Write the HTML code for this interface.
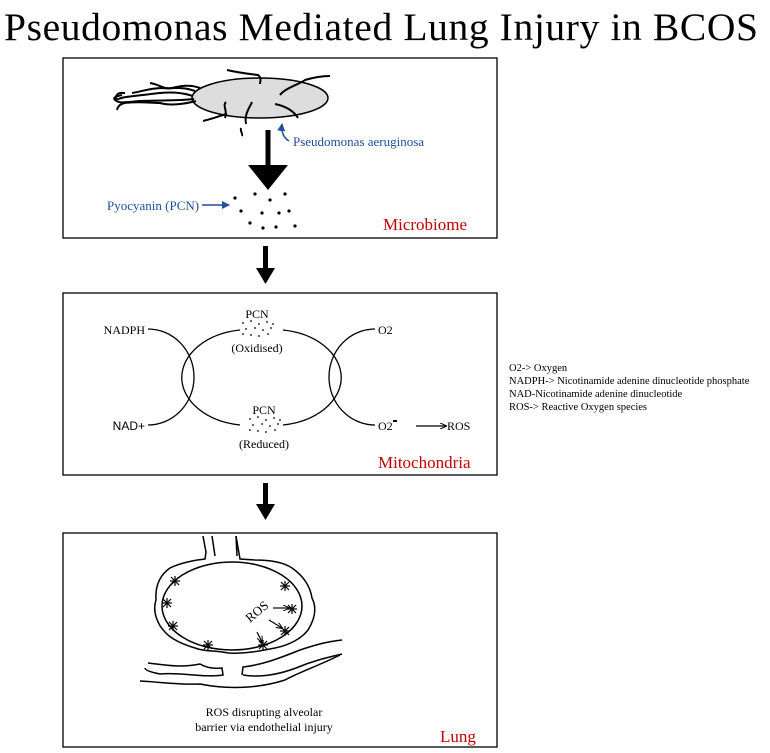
<!DOCTYPE html>
<html><head><meta charset="utf-8"><style>
html,body{margin:0;padding:0;background:#fff}
svg{display:block}
text{font-family:"Liberation Serif",serif}
</style></head><body>
<svg width="770" height="753" viewBox="0 0 770 753" xmlns="http://www.w3.org/2000/svg">
<defs>
<marker id="bl" markerWidth="8" markerHeight="8" refX="7" refY="4" orient="auto" markerUnits="userSpaceOnUse"><path d="M0,0 L8,4 L0,8 Z" fill="#1f4e9a"/></marker>
<marker id="k" markerWidth="7" markerHeight="6" refX="6" refY="3" orient="auto" markerUnits="userSpaceOnUse"><path d="M0,0 L7,3 L0,6" fill="none" stroke="#000" stroke-width="1"/></marker>
</defs>
<text x="4" y="40" font-size="39.5" textLength="754">Pseudomonas Mediated Lung Injury in BCOS</text>

<!-- Box 1 -->
<rect x="63" y="58" width="434" height="180" fill="none" stroke="#000" stroke-width="1.3"/>
<ellipse cx="260" cy="98" rx="68" ry="20" fill="#ddd" stroke="#000" stroke-width="1.5"/>
<g fill="none" stroke="#000" stroke-width="2">
<path d="M193,96 C180,92 170,92 160,93 C150,94 135,96 126,97 C118,98 115,102 116,97 C117,92 122,93 125,93"/>
<path d="M194,99 C178,101 160,100 140,101 C125,102 120,104 115,100 C112,97 118,96 122,95"/>
<path d="M195,91 C182,86 172,89 162,88 C150,88 140,92 132,93"/>
<path d="M196,101 C185,104 170,106 160,103 C150,103 140,101 125,103 C120,104 118,106 117,110"/>
<path d="M200,88 C190,84 180,86 172,88 C165,90 158,84 150,83"/>
<path d="M227,70 C240,73 250,74 258,75 C262,78 260,82 260,84"/>
<path d="M280,95 C285,88 300,84 305,80 C315,77 325,76 330,76"/>
<path d="M225,118 C228,110 222,106 226,102"/>
<path d="M246,124 C244,114 250,107 252,102"/>
<path d="M241,128 C240,131 243,134 242,136"/>
<path d="M203,121 C215,118 222,115 227,114"/>
<path d="M275,104 C285,106 293,110 298,118"/>
</g>
<path d="M289,141 C284,138 281,133 282,124" fill="none" stroke="#1f4e9a" stroke-width="1.5" marker-end="url(#bl)"/>
<text x="293" y="146" font-size="13" fill="#1f4e9a">Pseudomonas aeruginosa</text>
<rect x="265.5" y="130" width="5" height="36" fill="#000"/>
<path d="M248,165 L288,165 L268,190 Z" fill="#000"/>
<text x="107" y="210" font-size="13" fill="#1f4e9a">Pyocyanin (PCN)</text>
<line x1="202" y1="205" x2="229" y2="205" stroke="#1f4e9a" stroke-width="1.6" marker-end="url(#bl)"/>
<g fill="#000">
<circle cx="235" cy="198" r="1.6"/><circle cx="255" cy="194" r="1.6"/><circle cx="270" cy="200" r="1.6"/><circle cx="285" cy="194" r="1.6"/>
<circle cx="241" cy="211" r="1.6"/><circle cx="262" cy="213" r="1.6"/><circle cx="279" cy="213" r="1.6"/><circle cx="289" cy="211" r="1.6"/>
<circle cx="250" cy="223" r="1.6"/><circle cx="263" cy="228" r="1.6"/><circle cx="276" cy="227" r="1.6"/><circle cx="295" cy="226" r="1.6"/>
</g>
<text x="383" y="230" font-size="17" fill="#c00000">Microbiome</text>

<!-- arrow 1 -->
<rect x="263" y="246" width="5" height="24" fill="#000"/>
<path d="M256,268 L275,268 L265.5,284 Z" fill="#000"/>

<!-- Box 2 -->
<rect x="63" y="293" width="434" height="182" fill="none" stroke="#000" stroke-width="1.3"/>
<g fill="none" stroke="#000" stroke-width="1.3">
<path d="M148,329 A46,48 0 0 1 148,425"/>
<path d="M375,329 A46,48 0 0 0 375,425"/>
<path d="M240,330 A68,48 0 0 0 240,425"/>
<path d="M283,330 A68,48 0 0 1 283,425"/>
</g>
<text x="145" y="334" font-size="12" text-anchor="end">NADPH</text>
<text x="145" y="430" font-size="12" text-anchor="end" style="font-family:'Liberation Sans',sans-serif">NAD+</text>
<text x="378" y="334" font-size="12">O2</text>
<text x="378" y="430" font-size="12">O2</text>
<rect x="393" y="420" width="4" height="2" fill="#000"/>
<line x1="416" y1="426" x2="446" y2="426" stroke="#000" stroke-width="1.2" marker-end="url(#k)"/>
<text x="447" y="430" font-size="12">ROS</text>
<text x="257" y="318" font-size="12" text-anchor="middle">PCN</text>
<text x="257" y="352" font-size="12" text-anchor="middle">(Oxidised)</text>
<text x="264" y="414" font-size="12" text-anchor="middle">PCN</text>
<text x="264" y="448" font-size="12" text-anchor="middle">(Reduced)</text>
<g fill="#000">
<circle cx="243" cy="323" r="0.9"/><circle cx="251" cy="321" r="0.9"/><circle cx="259" cy="324" r="0.9"/><circle cx="267" cy="322" r="0.9"/><circle cx="273" cy="324" r="0.9"/>
<circle cx="246" cy="329" r="0.9"/><circle cx="255" cy="328" r="0.9"/><circle cx="263" cy="330" r="0.9"/><circle cx="271" cy="328" r="0.9"/>
<circle cx="243" cy="334" r="0.9"/><circle cx="251" cy="335" r="0.9"/><circle cx="259" cy="336" r="0.9"/><circle cx="268" cy="334" r="0.9"/>
<circle cx="250" cy="419" r="0.9"/><circle cx="258" cy="417" r="0.9"/><circle cx="266" cy="420" r="0.9"/><circle cx="274" cy="418" r="0.9"/><circle cx="280" cy="420" r="0.9"/>
<circle cx="253" cy="425" r="0.9"/><circle cx="262" cy="424" r="0.9"/><circle cx="270" cy="426" r="0.9"/><circle cx="278" cy="424" r="0.9"/>
<circle cx="250" cy="430" r="0.9"/><circle cx="258" cy="431" r="0.9"/><circle cx="266" cy="432" r="0.9"/><circle cx="275" cy="430" r="0.9"/>
</g>
<text x="378" y="468" font-size="17" fill="#c00000">Mitochondria</text>

<!-- legend -->
<g font-size="10.5">
<text x="509" y="371">O2-&gt; Oxygen</text>
<text x="509" y="384">NADPH-&gt; Nicotinamide adenine dinucleotide phosphate</text>
<text x="509" y="397">NAD-Nicotinamide adenine dinucleotide</text>
<text x="509" y="410">ROS-&gt; Reactive Oxygen species</text>
</g>

<!-- arrow 2 -->
<rect x="263" y="483" width="5" height="22" fill="#000"/>
<path d="M256,504 L275,504 L265.5,520 Z" fill="#000"/>

<!-- Box 3 -->
<rect x="63" y="533" width="434" height="214" fill="none" stroke="#000" stroke-width="1.3"/>
<g fill="none" stroke="#000" stroke-width="1.5">
<ellipse cx="232" cy="606" rx="70" y="0" ry="44"/>
<path d="M203,536 L206,552 L205,559 C195,560 180,563 170,568 C160,575 155,585 156,600 C152,612 158,625 165,632 C172,640 185,645 195,648 C205,652 215,650 228,653 C245,654 260,651 275,648 C290,645 302,638 308,630 C313,622 318,610 312,598 C310,585 302,575 292,568 C283,562 270,560 255,560 L240,559 L236,536"/>
<path d="M212,536 L215,556"/>
<path d="M236,536 L237,556"/>
<path d="M148,663 C165,665 180,668 200,664 C210,670 220,668 222,668 L223,675 C205,678 180,672 160,674 C150,672 145,670 145,668"/>
<path d="M242,675 L243,667 C262,665 280,658 300,650 C315,645 325,642 342,640"/>
<path d="M340,655 C320,665 300,672 285,680 C260,688 230,690 200,684 C180,685 160,682 140,681"/>
<path d="M243,675 C262,678 280,674 296,668 C315,660 330,657 342,654"/>
</g>
<g stroke="#000" stroke-width="1.2">
<g transform="translate(175,581)"><line x1="-5" y1="0" x2="5" y2="0"/><line x1="0" y1="-5" x2="0" y2="5"/><line x1="-4" y1="-4" x2="4" y2="4"/><line x1="-4" y1="4" x2="4" y2="-4"/></g>
<g transform="translate(167,603)"><line x1="-5" y1="0" x2="5" y2="0"/><line x1="0" y1="-5" x2="0" y2="5"/><line x1="-4" y1="-4" x2="4" y2="4"/><line x1="-4" y1="4" x2="4" y2="-4"/></g>
<g transform="translate(173,626)"><line x1="-5" y1="0" x2="5" y2="0"/><line x1="0" y1="-5" x2="0" y2="5"/><line x1="-4" y1="-4" x2="4" y2="4"/><line x1="-4" y1="4" x2="4" y2="-4"/></g>
<g transform="translate(208,645)"><line x1="-5" y1="0" x2="5" y2="0"/><line x1="0" y1="-5" x2="0" y2="5"/><line x1="-4" y1="-4" x2="4" y2="4"/><line x1="-4" y1="4" x2="4" y2="-4"/></g>
<g transform="translate(263,645)"><line x1="-5" y1="0" x2="5" y2="0"/><line x1="0" y1="-5" x2="0" y2="5"/><line x1="-4" y1="-4" x2="4" y2="4"/><line x1="-4" y1="4" x2="4" y2="-4"/></g>
<g transform="translate(285,631)"><line x1="-5" y1="0" x2="5" y2="0"/><line x1="0" y1="-5" x2="0" y2="5"/><line x1="-4" y1="-4" x2="4" y2="4"/><line x1="-4" y1="4" x2="4" y2="-4"/></g>
<g transform="translate(292,609)"><line x1="-5" y1="0" x2="5" y2="0"/><line x1="0" y1="-5" x2="0" y2="5"/><line x1="-4" y1="-4" x2="4" y2="4"/><line x1="-4" y1="4" x2="4" y2="-4"/></g>
<g transform="translate(285,586)"><line x1="-5" y1="0" x2="5" y2="0"/><line x1="0" y1="-5" x2="0" y2="5"/><line x1="-4" y1="-4" x2="4" y2="4"/><line x1="-4" y1="4" x2="4" y2="-4"/></g>
</g>
<g stroke="#000" stroke-width="1.2" fill="none">
<line x1="273" y1="608" x2="289" y2="608" marker-end="url(#k)"/>
<line x1="269" y1="620" x2="282" y2="628" marker-end="url(#k)"/>
<line x1="257" y1="632" x2="262" y2="642" marker-end="url(#k)"/>
</g>
<text x="0" y="0" font-size="13" transform="translate(250,623) rotate(-40)">ROS</text>
<text x="264" y="716" font-size="12" text-anchor="middle">ROS disrupting alveolar</text>
<text x="264" y="731" font-size="12" text-anchor="middle">barrier via endothelial injury</text>
<text x="440" y="742" font-size="17" fill="#c00000">Lung</text>
</svg>
</body></html>
